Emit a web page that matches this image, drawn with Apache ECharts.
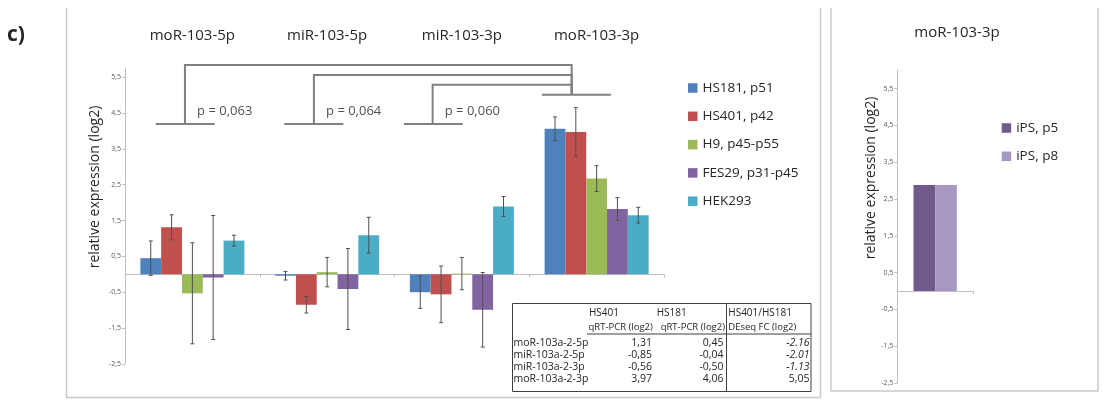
<!DOCTYPE html>
<html><head><meta charset="utf-8">
<script src="https://cdn.jsdelivr.net/npm/echarts@6/dist/echarts.min.js"></script>
<style>html,body{margin:0;padding:0;background:#fff}#c{width:1102px;height:403px}</style>
</head><body><div id="c"></div>
<script>
// ---------- data ----------
const categories = ['moR-103-5p', 'miR-103-5p', 'miR-103-3p', 'moR-103-3p'];
const seriesNames = ['HS181, p51', 'HS401, p42', 'H9, p45-p55', 'FES29, p31-p45', 'HEK293'];
const hs181 = [0.45, -0.04, -0.50, 4.06];
const hs401 = [1.31, -0.85, -0.56, 3.97];
const h9 = [-0.53, 0.06, 0.02, 2.67];
const fes29 = [-0.09, -0.41, -0.99, 1.82];
const hek293 = [0.94, 1.09, 1.89, 1.65];
const hs181Err = [0.48, 0.12, 0.45, 0.33];
const hs401Err = [0.35, 0.23, 0.79, 0.68];
const h9Err = [1.41, 0.41, 0.45, 0.36];
const fes29Err = [1.73, 1.13, 1.04, 0.32];
const hek293Err = [0.15, 0.50, 0.28, 0.22];
const yTicks = [-2.5, -1.5, -0.5, 0.5, 1.5, 2.5, 3.5, 4.5, 5.5];

const ipsCategories = ['moR-103-3p'];
const ipsNames = ['iPS, p5', 'iPS, p8'];
const ipsP5 = [2.88];
const ipsP8 = [2.88];

const pLabels = ['p = 0,063', 'p = 0,064', 'p = 0,060'];
// significance brackets, in (category-units, log2 value)
const bracketBases = [[0.228, 0.665], [1.182, 1.62], [2.07, 2.506]];
const bracketStems = [0.445, 1.402, 2.283];
const bracketTops = [5.84, 5.56, 5.29];
const bracketBaseY = 4.19;
const bracketJoinX = 3.315;
const bracketJoinY = 5.01;
const bracketTarget = [3.094, 3.606];

const tableHead1 = ['HS401', 'HS181', 'HS401/HS181'];
const tableHead2 = ['qRT-PCR (log2)', 'qRT-PCR (log2)', 'DEseq FC (log2)'];
const tableRows = ['moR-103a-2-5p', 'miR-103a-2-5p', 'miR-103a-2-3p', 'moR-103a-2-3p'];
const tableHS401 = ['1,31', '-0,85', '-0,56', '3,97'];
const tableHS181 = ['0,45', '-0,04', '-0,50', '4,06'];
const tableDEseq = ['-2.16', '-2.01', '-1.13', '5,05'];
const tableDEseqItalic = [true, true, true, false];

// ---------- styling ----------
const colors = ['#4F81BD', '#C0504D', '#9BBB59', '#8064A2', '#4BACC6'];
const ipsColors = ['#6F5A8B', '#A698C2'];
const FONT = '"Open Sans", "Liberation Sans", sans-serif';
const AX = '#bfbfbf';
const GAP_L = 0.228, GAP_R = 0.428;

const values = [hs181, hs401, h9, fes29, hek293];
const errs = [hs181Err, hs401Err, h9Err, fes29Err, hek293Err];

function errRender(idx, n, gap) {
  return function (params, api) {
    const xi = api.value(0), v = api.value(1), e = api.value(2);
    const c = api.coord([xi, v]);
    const bw = api.size([1, 0])[0] * (1 - gap) / n;
    const x = c[0] + (idx - (n - 1) / 2) * bw;
    const t = api.coord([xi, v + e])[1], b = api.coord([xi, v - e])[1];
    const st = { stroke: '#505050', lineWidth: 1 };
    return { type: 'group', children: [
      { type: 'line', shape: { x1: x, y1: t, x2: x, y2: b }, style: st },
      { type: 'line', shape: { x1: x - 2, y1: t, x2: x + 2, y2: t }, style: st },
      { type: 'line', shape: { x1: x - 2, y1: b, x2: x + 2, y2: b }, style: st }
    ] };
  };
}

const series = [];
values.forEach((vals, i) => {
  series.push({ name: seriesNames[i], type: 'bar', xAxisIndex: 0, yAxisIndex: 0,
    data: vals, barGap: '0%', barCategoryGap: (GAP_L * 100) + '%',
    itemStyle: { color: colors[i] }, emphasis: { disabled: true } });
});
values.forEach((vals, i) => {
  series.push({ name: 'err' + i, type: 'custom', xAxisIndex: 0, yAxisIndex: 0, z: 5,
    renderItem: errRender(i, 5, GAP_L),
    data: vals.map((v, k) => [k, v, errs[i][k]]) });
});
// brackets
const bracketLines = [];
bracketBases.forEach((b, i) => {
  bracketLines.push({ coords: [[b[0], bracketBaseY], [b[1], bracketBaseY]] });
  bracketLines.push({ coords: [[bracketStems[i], bracketBaseY], [bracketStems[i], bracketTops[i]],
    [bracketJoinX, bracketTops[i]], [bracketJoinX, bracketJoinY]] });
});
bracketLines.push({ coords: [[bracketTarget[0], bracketJoinY], [bracketTarget[1], bracketJoinY]] });
series.push({ type: 'lines', coordinateSystem: 'cartesian2d', xAxisIndex: 2, yAxisIndex: 0,
  polyline: true, silent: true, clip: false, data: bracketLines,
  lineStyle: { color: '#808080', width: 2, opacity: 1 } });
series.push({ type: 'scatter', xAxisIndex: 2, yAxisIndex: 0, symbolSize: 0, silent: true, clip: false,
  data: bracketStems.map((x, i) => ({ value: [x + 0.09, 4.55], label: { show: true, formatter: pLabels[i],
    position: 'right', distance: 0, fontSize: 13, color: '#262626', fontFamily: FONT } })) });

// right panel
[ipsP5, ipsP8].forEach((vals, i) => {
  series.push({ name: ipsNames[i], type: 'bar', xAxisIndex: 3, yAxisIndex: 1, data: vals,
    barGap: '0%', barCategoryGap: (GAP_R * 100) + '%', itemStyle: { color: ipsColors[i] },
    emphasis: { disabled: true } });
});

const fmt = v => String(v).replace('.', ',');
function yAxis(grid, max) {
  return { gridIndex: grid, type: 'value', min: -2.5, max: max,
    axisLine: { show: true, lineStyle: { color: AX } },
    axisTick: { show: true, length: 3, customValues: yTicks, lineStyle: { color: AX } },
    axisLabel: { customValues: yTicks, fontSize: 7, color: '#595959', margin: 4, formatter: fmt, fontFamily: FONT },
    splitLine: { show: false } };
}

// table graphics
const TX = 512.5, TY = 303.5, TW = 298.5, TH = 88;
const tStyle = (extra) => Object.assign({ fontSize: 10.5, fill: '#262626', fontFamily: FONT, verticalAlign: 'middle' }, extra);
const graphics = [
  { type: 'text', x: 7, y: 35, style: { text: 'c)', fontSize: 21, fontWeight: 'bold', fill: '#262626', fontFamily: FONT, verticalAlign: 'middle' } },
  { type: 'polyline', shape: { points: [[66.5, 8], [66.5, 397.5], [820.5, 397.5], [820.5, 8]] }, style: { stroke: '#c8ccd0', lineWidth: 1.5, fill: null } },
  { type: 'polyline', shape: { points: [[831, 8], [831, 391], [1098, 391], [1098, 8]] }, style: { stroke: '#c8ccd0', lineWidth: 1.5, fill: null } },
  { type: 'text', x: 95, y: 187, rotation: Math.PI / 2, style: { text: 'relative expression (log2)', fontSize: 14, fill: '#262626', fontFamily: FONT, align: 'center', verticalAlign: 'middle' } },
  { type: 'text', x: 871, y: 178, rotation: Math.PI / 2, style: { text: 'relative expression (log2)', fontSize: 14, fill: '#262626', fontFamily: FONT, align: 'center', verticalAlign: 'middle' } },
  { type: 'text', x: 957, y: 33, style: { text: ipsCategories[0], fontSize: 15, fill: '#262626', fontFamily: FONT, align: 'center', verticalAlign: 'middle' } },
  { type: 'rect', z: 10, shape: { x: TX, y: TY, width: TW, height: TH }, style: { fill: '#fff', stroke: '#404040', lineWidth: 1 } },
  { type: 'line', z: 11, shape: { x1: 726.5, y1: TY, x2: 726.5, y2: TY + TH }, style: { stroke: '#404040', lineWidth: 1 } },
  { type: 'line', z: 11, shape: { x1: 587, y1: 334, x2: TX + TW, y2: 334 }, style: { stroke: '#404040', lineWidth: 1 } }
];
const h1x = [589, 656.7, 728.3];
tableHead1.forEach((t, i) => graphics.push({ type: 'text', z: 12, x: h1x[i], y: 313.3, style: tStyle({ text: t, fontSize: 10 }) }));
graphics.push({ type: 'text', z: 12, x: 588.5, y: 327.5, style: tStyle({ text: tableHead2[0], fontSize: 9.5 }) });
graphics.push({ type: 'text', z: 12, x: 725, y: 327.5, style: tStyle({ text: tableHead2[1], fontSize: 9.5, align: 'right' }) });
graphics.push({ type: 'text', z: 12, x: 728.3, y: 327.5, style: tStyle({ text: tableHead2[2], fontSize: 9.5 }) });
const rowY = [343.3, 355.5, 367.5, 379.3];
tableRows.forEach((t, r) => {
  graphics.push({ type: 'text', z: 12, x: 513.5, y: rowY[r], style: tStyle({ text: t }) });
  graphics.push({ type: 'text', z: 12, x: 652, y: rowY[r], style: tStyle({ text: tableHS401[r], align: 'right' }) });
  graphics.push({ type: 'text', z: 12, x: 723.5, y: rowY[r], style: tStyle({ text: tableHS181[r], align: 'right' }) });
  graphics.push({ type: 'text', z: 12, x: 809.5, y: rowY[r], style: tStyle({ text: tableDEseq[r], align: 'right', fontStyle: tableDEseqItalic[r] ? 'italic' : 'normal' }) });
});

const option = {
  animation: false,
  textStyle: { fontFamily: FONT },
  grid: [
    { left: 125, top: 68.2, width: 539, height: 295.7 },
    { left: 897.3, top: 70.2, width: 75.7, height: 312.8 }
  ],
  legend: [
    { data: seriesNames, orient: 'vertical', left: 683, top: 76, itemWidth: 9.5, itemHeight: 9.5, itemGap: 14.3,
      icon: 'rect', textStyle: { fontSize: 13.5, color: '#262626', fontFamily: FONT }, selectedMode: false },
    { data: ipsNames, orient: 'vertical', left: 996.7, top: 116, itemWidth: 9.5, itemHeight: 9.5, itemGap: 14.3,
      icon: 'rect', textStyle: { fontSize: 13.5, color: '#262626', fontFamily: FONT }, selectedMode: false }
  ],
  xAxis: [
    { gridIndex: 0, type: 'category', data: categories, position: 'bottom',
      axisLine: { onZero: true, lineStyle: { color: AX } }, axisTick: { show: true, length: 3, lineStyle: { color: AX } },
      axisLabel: { show: false } },
    { gridIndex: 0, type: 'category', data: categories, position: 'top',
      axisLine: { show: false }, axisTick: { show: false },
      axisLabel: { show: true, margin: 25, fontSize: 15, color: '#262626', fontFamily: FONT } },
    { gridIndex: 0, type: 'value', min: 0, max: 4, show: false },
    { gridIndex: 1, type: 'category', data: ipsCategories, position: 'bottom',
      axisLine: { onZero: true, lineStyle: { color: AX } }, axisTick: { show: true, length: 3, lineStyle: { color: AX } },
      axisLabel: { show: false } }
  ],
  yAxis: [yAxis(0, 5.75), yAxis(1, 6)],
  series: series,
  graphic: graphics
};
echarts.init(document.getElementById('c'), null, { renderer: 'canvas' }).setOption(option);
</script></body></html>
